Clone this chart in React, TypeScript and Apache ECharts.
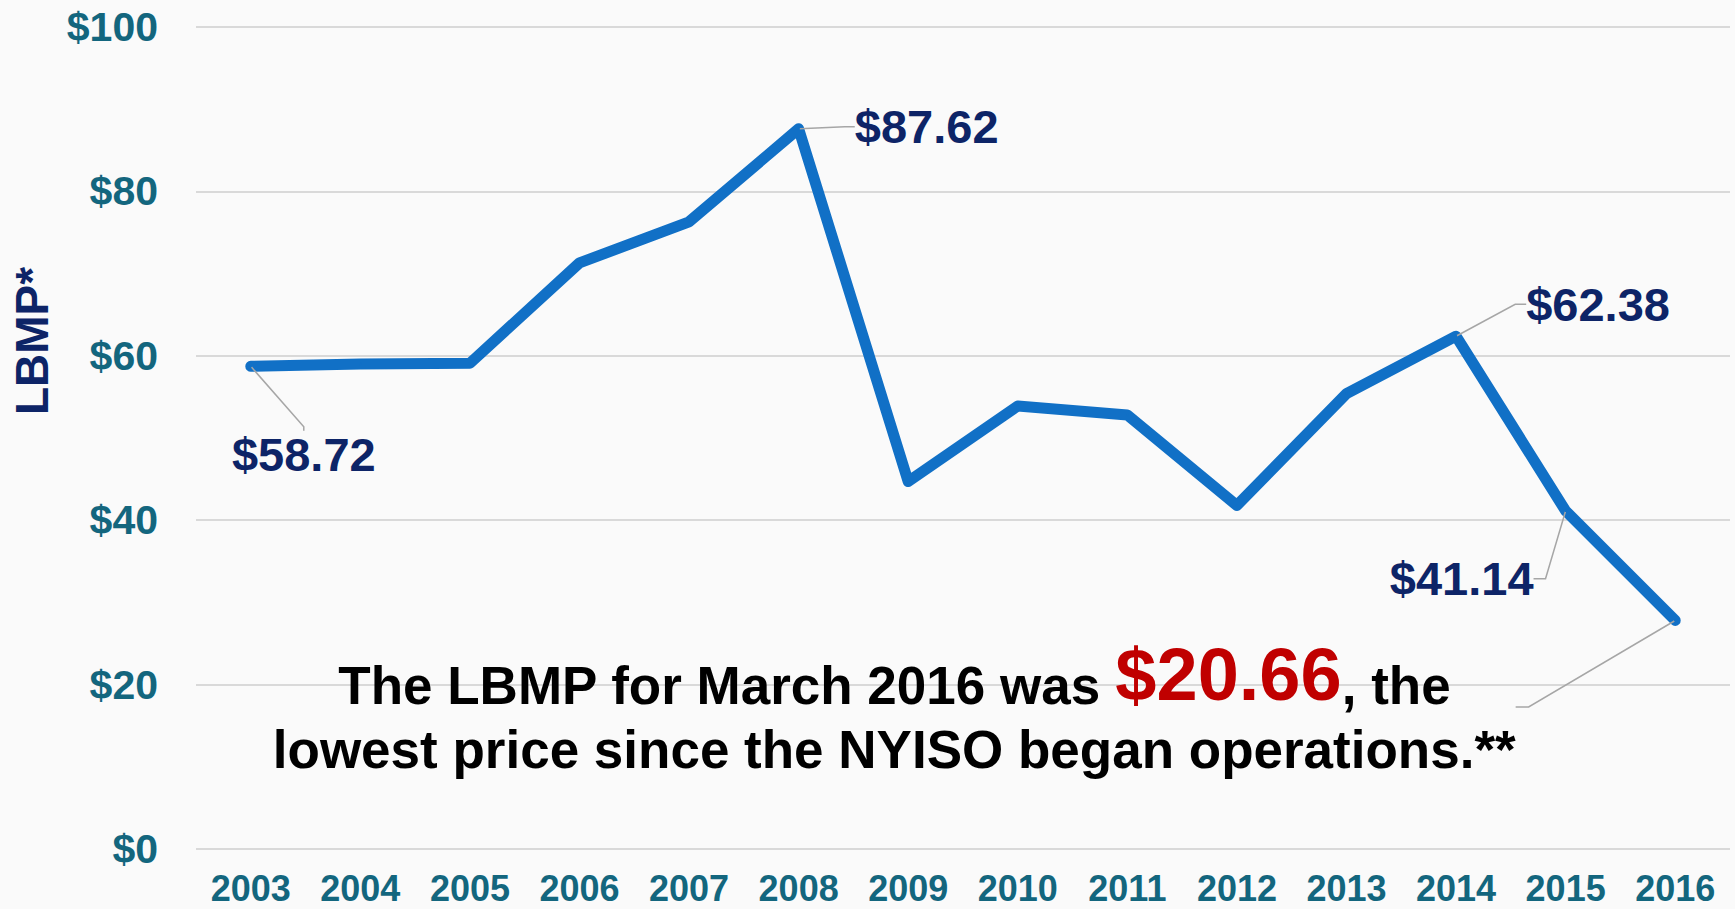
import React, { useEffect, useRef } from 'react';
import * as echarts from 'echarts';

const YEARS = ['2003', '2004', '2005', '2006', '2007', '2008', '2009', '2010', '2011', '2012', '2013', '2014', '2015', '2016'];
const LBMP = [58.72, 59.0, 59.1, 71.3, 76.3, 87.62, 44.7, 53.9, 52.8, 41.8, 55.4, 62.38, 41.14, 27.8];
const Y_MIN = 0;
const Y_MAX = 100;
const Y_STEP = 20;
const Y_NAME = 'LBMP*';
const LABELED_YEARS = ['2003', '2008', '2014', '2015'];
const NOTE_YEAR = '2016';
const NOTE_LINE1_A = 'The LBMP for March 2016 was ';
const NOTE_PRICE = '$20.66';
const NOTE_LINE1_B = ', the';
const NOTE_LINE2 = 'lowest price since the NYISO began operations.**';

// label placement relative to its point: [dx, dy, guide length2]
const LABEL_PLACE: Record<string, [number, number, number]> = {
  '2003': [53, 88, 4],
  '2008': [128, -2, 10],
  '2014': [142, -32, 11],
  '2015': [-104, 68, 12],
  '2016': [-781, 84, 13],
};

const FONT = '"Liberation Sans", Arial, Helvetica, sans-serif';
const NAVY = '#0D2467';
const TEAL = '#13667E';
const LINE = '#1170C6';
const GUIDE = '#A6A6A6';

export default function App() {
  const ref = useRef<HTMLDivElement>(null);
  useEffect(() => {
    if (!ref.current) return;
    const chart = echarts.init(ref.current, undefined, { renderer: 'svg' });
    const data = LBMP.map((v, i) => {
      const year = YEARS[i];
      const place = LABEL_PLACE[year];
      if (LABELED_YEARS.includes(year)) {
        return {
          value: v,
          label: {
            show: true,
            formatter: '$' + v.toFixed(2),
            fontFamily: FONT,
            fontWeight: 'bold',
            fontSize: 47,
            color: NAVY,
            padding: [4, 8, 4, 8],
          },
          labelLine: { show: true, length2: place[2], lineStyle: { color: GUIDE, width: 1.5 } },
        };
      }
      if (year === NOTE_YEAR) {
        return {
          value: v,
          label: {
            show: true,
            formatter: `{a|${NOTE_LINE1_A}}{r|${NOTE_PRICE}}{a|${NOTE_LINE1_B}}\n{a|${NOTE_LINE2}}`,
            padding: [0, 13, 0, 13],
            rich: {
              a: { fontFamily: FONT, fontWeight: 'bold', fontSize: 53, color: '#000000', lineHeight: 64, verticalAlign: 'bottom' },
              r: { fontFamily: FONT, fontWeight: 'bold', fontSize: 74, color: '#C00000', lineHeight: 79, verticalAlign: 'bottom' },
            },
          },
          labelLine: { show: true, length2: place[2], lineStyle: { color: GUIDE, width: 1.5 } },
        };
      }
      return { value: v };
    });

    chart.setOption({
      animation: false,
      backgroundColor: '#FAFAFA',
      grid: { left: 196, right: 5, top: 27, bottom: 60, containLabel: false },
      xAxis: {
        type: 'category',
        data: YEARS,
        boundaryGap: true,
        axisLine: { show: false },
        axisTick: { show: false },
        axisLabel: { fontFamily: FONT, fontWeight: 'bold', fontSize: 36, color: TEAL, margin: 21 },
      },
      yAxis: {
        type: 'value',
        min: Y_MIN,
        max: Y_MAX,
        interval: Y_STEP,
        axisLine: { show: false },
        axisTick: { show: false },
        splitLine: { lineStyle: { color: '#D9D9D9', width: 2 } },
        axisLabel: { formatter: '${value}', fontFamily: FONT, fontWeight: 'bold', fontSize: 41, color: TEAL, margin: 38 },
      },
      graphic: [
        {
          type: 'text',
          x: 32,
          y: 341,
          rotation: Math.PI / 2,
          style: {
            text: Y_NAME,
            font: `bold 46px ${FONT}`,
            fill: NAVY,
            align: 'center',
            verticalAlign: 'middle',
          },
        },
      ],
      series: [
        {
          type: 'line',
          data,
          symbol: 'circle',
          symbolSize: 2,
          showSymbol: true,
          itemStyle: { color: LINE },
          lineStyle: { color: LINE, width: 11, cap: 'round', join: 'round' },
          label: { show: false },
          labelLayout: (p: any) => {
            const place = LABEL_PLACE[YEARS[p.dataIndex]];
            if (!place) return {};
            const cx = p.rect.x + p.rect.width / 2;
            const cy = p.rect.y + p.rect.height / 2;
            return { x: cx + place[0], y: cy + place[1], align: 'center', verticalAlign: 'middle' };
          },
        },
      ],
    });
    return () => chart.dispose();
  }, []);
  return <div ref={ref} style={{ position: 'fixed', left: 0, top: 0, width: 1735, height: 909 }} />;
}
